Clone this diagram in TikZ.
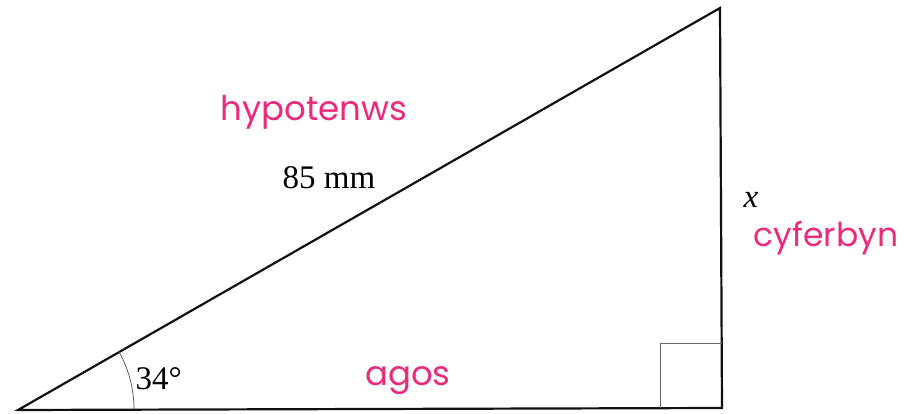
\documentclass[tikz,border=0pt]{standalone}
\usepackage{fontspec}
\setmainfont{Liberation Serif}
\newfontfamily\handfont{Poppins}
\usetikzlibrary{calc}

\begin{document}
\begin{tikzpicture}[x=1pt, y=-1pt]
    % Define colours
    \definecolor{borderColour}{HTML}{111111}
    \definecolor{markColour}{HTML}{EC2A7C}

    % Fix the page size
    \useasboundingbox (0,0) rectangle (914,414);

    % Define the vertices of the right-angled triangle
    \coordinate (A) at (18,410);
    \coordinate (B) at (722,408);
    \coordinate (C) at (720,8);

    % Draw the triangle
    \draw[draw=borderColour, line width=2.2pt, line join=miter] (A) -- (B) -- (C) -- cycle;

    % Right angle mark
    \draw[gray!80!black, line width=0.8pt] ($(B)+(-62,0)$) -- ($(B)+(-62,-65)$) -- ($(B)+(0,-65)$);

    % Angle arc at A
    \draw[gray!60!black, line width=0.7pt] ($(A)+(116,-1)$) arc[start angle=0, end angle=-30, radius=116];

    % Printed labels
    \node[anchor=west, font=\fontsize{33}{36}\selectfont] (angle) at (132,379) {34°};
    \node[font=\fontsize{33}{36}\selectfont] (hyp) at (329,178) {85 mm};
    \node[font=\fontsize{33}{36}\selectfont] (opp) at (751,200) {\textit{x}};

    % Handwritten labels
    \node[text=markColour, font=\handfont\fontsize{34}{36}\selectfont] (hypname) at (314,112) {hypotenws};
    \node[text=markColour, font=\handfont\fontsize{33}{36}\selectfont] (oppname) at (826,238) {cyferbyn};
    \node[text=markColour, font=\handfont\fontsize{34}{36}\selectfont] (adjname) at (408,381) {agos};

\end{tikzpicture}
\end{document}
